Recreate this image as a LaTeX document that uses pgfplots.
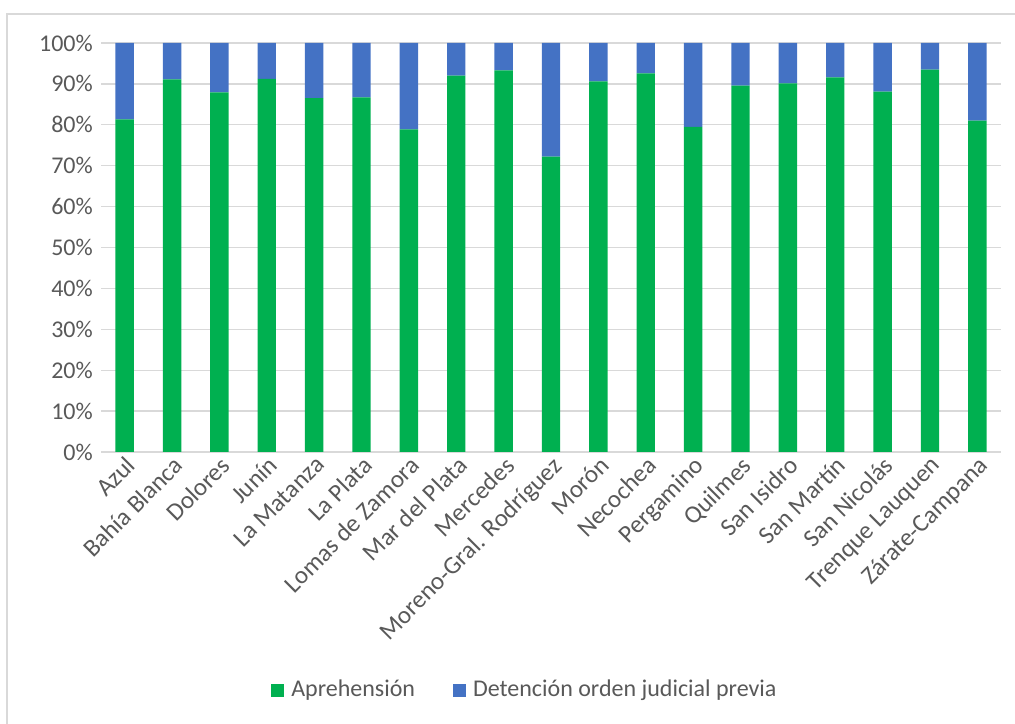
\documentclass[border=0pt]{standalone}
\usepackage{pgfplots}
\pgfplotsset{compat=1.18}
\usepackage{fontspec}
\setmainfont{Carlito}
\definecolor{cgreen}{HTML}{00B050}
\definecolor{cblue}{HTML}{4472C4}
\definecolor{cgrid}{HTML}{D9D9D9}
\definecolor{ctext}{HTML}{595959}
\begin{document}
\fontsize{24bp}{28bp}\selectfont
\begin{tikzpicture}
\useasboundingbox (0,0) rectangle (1015bp,724bp);
\draw[cgrid, line width=1.3bp] (7bp,0) -- (7bp,710bp) -- (1016bp,710bp);
\begin{axis}[
  at={(101bp,272bp)}, anchor=south west,
  scale only axis, width=900bp, height=409bp,
  ybar stacked, bar width=18.4bp,
  xmin=-0.5, xmax=18.5, ymin=0, ymax=100,
  xtick={0,...,18},
  xticklabels={Azul,Bahía Blanca,Dolores,Junín,La Matanza,La Plata,Lomas de Zamora,Mar del Plata,Mercedes,Moreno-Gral. Rodríguez,Morón,Necochea,Pergamino,Quilmes,San Isidro,San Martín,San Nicolás,Trenque Lauquen,Zárate-Campana},
  xticklabel style={rotate=45, anchor=north east, font=\fontsize{25bp}{29bp}\selectfont, text=ctext, inner sep=2bp},
  ytick={0,10,...,100},
  yticklabel={\pgfmathprintnumber{\tick}\%},
  yticklabel style={font=\fontsize{24bp}{28bp}\selectfont, text=ctext},
  /pgf/number format/assume math mode=true,
  major tick length=0pt,
  ymajorgrids, grid style={cgrid, line width=1.3bp},
  axis line style={draw=none},
  legend style={at={(0.471,-0.582)}, anchor=center, draw=none, legend columns=2,
    font=\fontsize{24bp}{28bp}\selectfont, text=ctext,
    /tikz/every even column/.append style={column sep=36bp}},
  legend image code/.code={\fill[#1] (0bp,-6.5bp) rectangle (13bp,6.5bp); \path (18bp,0);},
]
\addplot[fill=cgreen, draw=none] coordinates {
(0,81.3) (1,91.1) (2,87.9) (3,91.2) (4,86.5) (5,86.7) (6,78.9) (7,92.0) (8,93.3) (9,72.2)
(10,90.6) (11,92.6) (12,79.5) (13,89.6) (14,90.1) (15,91.6) (16,88.1) (17,93.5) (18,81.0)};
\addplot[fill=cblue, draw=none] coordinates {
(0,18.7) (1,8.9) (2,12.1) (3,8.8) (4,13.5) (5,13.3) (6,21.1) (7,8.0) (8,6.7) (9,27.8)
(10,9.4) (11,7.4) (12,20.5) (13,10.4) (14,9.9) (15,8.4) (16,11.9) (17,6.5) (18,19.0)};
\legend{Aprehensión,Detención orden judicial previa}
\end{axis}
\end{tikzpicture}
\end{document}
